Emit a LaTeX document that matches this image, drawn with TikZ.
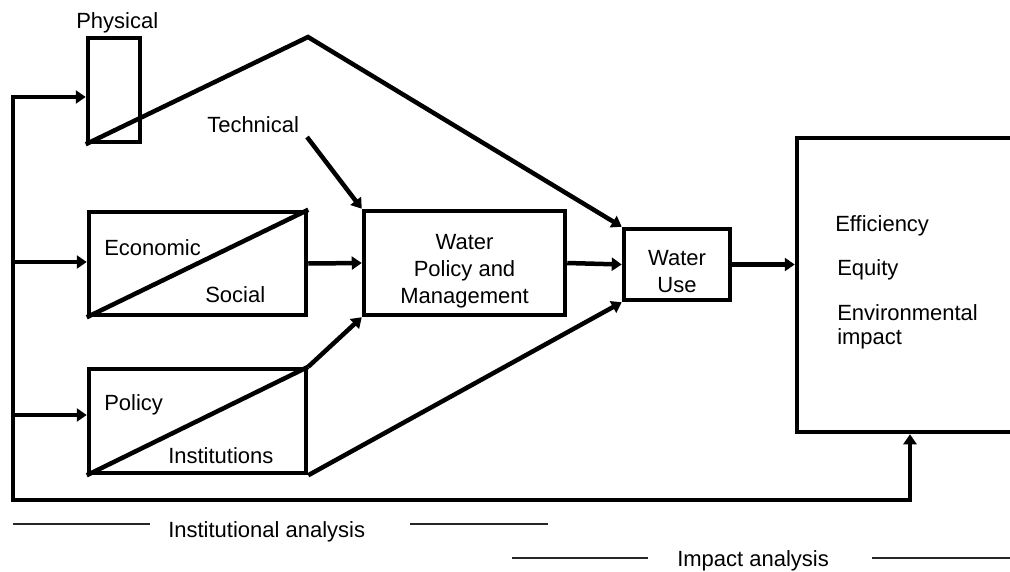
\documentclass[tikz,border=0pt]{standalone}
\usepackage{fontspec}
\setmainfont{Liberation Sans}
\usetikzlibrary{arrows.meta,positioning,calc}

\tikzset{
  blk/.style={draw,line width=4.5pt,inner sep=0pt},
  lbl/.style={inner sep=0pt,anchor=base west},
  rule/.style={line width=1.3pt,black!85},
}

\begin{document}
\begin{tikzpicture}[x=1pt,y=-1pt,line width=4.5pt,>={Triangle[length=10pt,width=13pt]},
  font=\fontsize{22}{27}\selectfont]
  \useasboundingbox (0,0) rectangle (1010,571);
  \clip (0,0) rectangle (1010,571);
  % boxes
  \node[blk,minimum width=52pt,minimum height=104pt] (phys) at (114,90) {};
  \node[blk,minimum width=217pt,minimum height=103pt] (eco) at (197.5,263.5) {};
  \node[blk,minimum width=217pt,minimum height=104pt] (pol) at (197.5,421) {};
  \node[blk,minimum width=201pt,minimum height=104pt] (wpm) at (464.5,263) {};
  \node[blk,minimum width=106pt,minimum height=71pt] (use) at (677,264.5) {};
  \node[blk,minimum width=253pt,minimum height=294pt] (out) at (923.5,285) {};
  \draw (eco.south west) -- (eco.north east);
  \draw (pol.south west) -- (pol.north east);
  % texts
  \node[lbl] (physlbl) at (74,28) {Physical};
  \node[lbl] (techlbl) at (205,132) {Technical};
  \node[lbl] (ecolbl) at (102,255) {Economic};
  \node[lbl] (soclbl) at (203,302) {Social};
  \node[lbl] (pollbl) at (102,410) {Policy};
  \node[lbl] (instlbl) at (166,463) {Institutions};
  \node[lbl,anchor=base,align=center] (wpmlbl) at (464.5,303) {Water\\Policy and\\Management};
  \node[lbl,anchor=base,align=center] (uselbl) at (677,292) {Water\\Use};
  \node[lbl] (efflbl) at (833,231) {Efficiency};
  \node[lbl] (equlbl) at (835,275) {Equity};
  \node[lbl,align=left,font=\fontsize{22}{24}\selectfont] (envlbl) at (835,344) {Environmental\\impact};
  \node[lbl] (ialbl) at (166,537) {Institutional analysis};
  \node[lbl] (imlbl) at (675,566) {Impact analysis};
  % connectors
  \coordinate (peak) at (308,37);
  \coordinate (techtail) at (307,137);
  \coordinate (rtop) at (13,97);
  \coordinate (reco) at (13,262);
  \coordinate (rpol) at (13,415);
  \coordinate (rbot) at (13,500);
  \coordinate (fb) at (910,500);
  \draw[->] (phys.south west) -- (peak) -- (use.north west);
  \draw[->] (techtail) -- (wpm.north west);
  \draw[->] (eco.east) -- (wpm.west);
  \draw[->] (pol.north east) -- (wpm.south west);
  \draw[->] (pol.south east) -- (use.south west);
  \draw[->] (wpm.east) -- (use.west);
  \draw[->] (use.east) -- (use.east -| out.west);
  \draw[<->] (rtop -| phys.west) -- (rtop) -- (rbot) -- (fb) -- (fb |- out.south);
  \draw[->] (reco) -- (reco -| eco.west);
  \draw[->] (rpol) -- (rpol -| pol.west);
  % analysis rules
  \draw[rule] (13,524) -- (150,524) (410,524) -- (548,524);
  \draw[rule] (512,558) -- (648,558) (872,558) -- (1010,558);
\end{tikzpicture}
\end{document}
